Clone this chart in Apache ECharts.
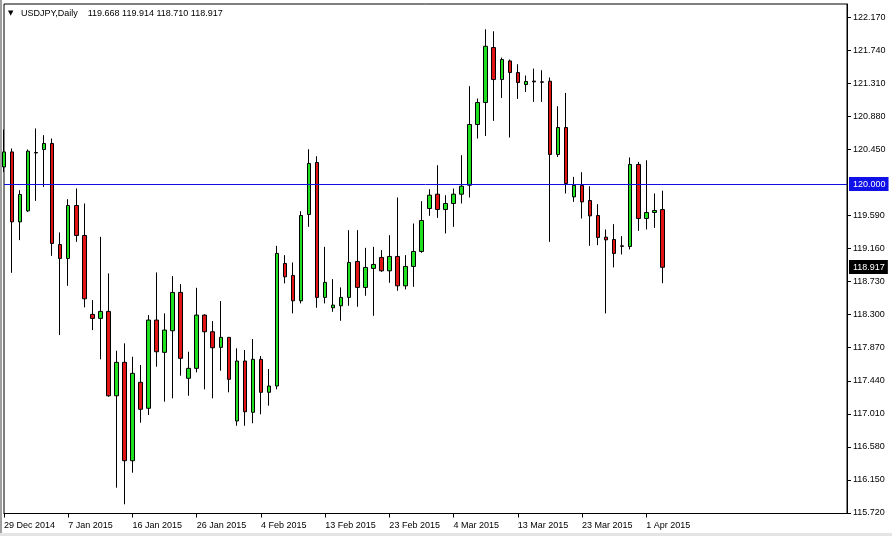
<!DOCTYPE html>
<html><head><meta charset="utf-8">
<script src="https://cdn.jsdelivr.net/npm/echarts@6/dist/echarts.min.js"></script>
<style>html,body{margin:0;padding:0;background:#fff;overflow:hidden}#c{width:892px;height:536px}</style>
</head><body><div id="c"></div>
<script>
const symbolName = 'USDJPY,Daily';
const dates = ['29 Dec 2014','30 Dec 2014','31 Dec 2014','1 Jan 2015','2 Jan 2015','4 Jan 2015','5 Jan 2015','6 Jan 2015',
'7 Jan 2015','8 Jan 2015','9 Jan 2015','11 Jan 2015','12 Jan 2015','13 Jan 2015','14 Jan 2015','15 Jan 2015',
'16 Jan 2015','18 Jan 2015','19 Jan 2015','20 Jan 2015','21 Jan 2015','22 Jan 2015','23 Jan 2015','25 Jan 2015',
'26 Jan 2015','27 Jan 2015','28 Jan 2015','29 Jan 2015','30 Jan 2015','1 Feb 2015','2 Feb 2015','3 Feb 2015',
'4 Feb 2015','5 Feb 2015','6 Feb 2015','8 Feb 2015','9 Feb 2015','10 Feb 2015','11 Feb 2015','12 Feb 2015',
'13 Feb 2015','15 Feb 2015','16 Feb 2015','17 Feb 2015','18 Feb 2015','19 Feb 2015','20 Feb 2015','22 Feb 2015',
'23 Feb 2015','24 Feb 2015','25 Feb 2015','26 Feb 2015','27 Feb 2015','1 Mar 2015','2 Mar 2015','3 Mar 2015',
'4 Mar 2015','5 Mar 2015','6 Mar 2015','8 Mar 2015','9 Mar 2015','10 Mar 2015','11 Mar 2015','12 Mar 2015',
'13 Mar 2015','15 Mar 2015','16 Mar 2015','17 Mar 2015','18 Mar 2015','19 Mar 2015','20 Mar 2015','22 Mar 2015',
'23 Mar 2015','24 Mar 2015','25 Mar 2015','26 Mar 2015','27 Mar 2015','29 Mar 2015','30 Mar 2015','31 Mar 2015',
'1 Apr 2015','2 Apr 2015','3 Apr 2015'];
const opens = [120.223,120.418,119.508,119.651,120.410,120.450,120.528,119.214,119.032,119.721,119.331,118.304,118.252,118.343,117.245,117.680,
116.400,117.420,117.082,118.230,117.810,118.091,118.590,117.472,117.602,118.295,118.078,117.875,118.005,116.917,117.697,117.030,
117.719,117.290,117.372,118.967,118.811,118.481,119.604,120.281,118.525,118.390,118.416,118.525,118.993,118.655,118.902,119.045,
118.871,119.058,118.676,118.928,119.123,119.682,119.868,119.669,119.747,119.868,119.985,120.775,121.061,121.776,121.360,121.602,
121.451,121.295,121.340,121.330,121.338,120.385,120.736,119.833,119.982,119.786,119.591,119.309,119.279,119.196,119.188,120.255,
119.552,119.630,119.668];
const highs = [120.710,120.463,119.920,120.450,120.723,120.636,120.593,119.370,119.803,119.943,119.747,118.490,119.313,118.837,117.831,117.927,
117.753,117.645,118.295,118.850,118.317,118.802,118.698,117.818,118.650,118.304,118.217,118.477,118.010,117.862,117.840,117.983,
117.762,117.593,119.196,119.075,118.980,119.647,120.453,120.362,119.183,118.763,118.655,119.400,119.400,119.170,119.183,119.140,
119.335,119.825,119.075,119.487,119.777,119.933,120.245,119.855,119.942,120.376,121.273,121.113,122.014,121.988,121.646,121.620,
121.559,121.412,121.503,121.481,121.386,121.013,121.186,120.093,120.154,119.972,119.738,119.409,119.478,119.322,120.346,120.288,
120.310,119.877,119.914];
const lows = [120.158,118.845,119.270,119.638,119.781,119.963,119.066,118.035,118.676,119.248,118.395,118.100,117.719,117.232,116.049,115.833,
116.244,116.894,116.995,117.623,117.168,117.212,117.506,117.245,117.550,117.329,117.212,117.571,117.290,116.855,116.855,116.887,
117.004,117.116,117.329,118.707,118.317,118.447,119.443,118.390,118.447,118.338,118.221,118.416,118.403,118.546,118.286,118.858,
118.715,118.611,118.629,118.663,119.105,119.586,119.560,119.357,119.443,119.747,119.825,120.593,120.626,120.822,121.121,120.606,
121.108,121.199,121.069,121.069,119.248,120.353,119.877,119.768,119.552,119.196,119.205,118.317,118.915,119.084,119.149,119.391,
119.409,119.430,118.710];
const closes = [120.418,119.508,119.864,120.428,120.405,120.528,119.227,119.032,119.721,119.331,118.507,118.252,118.343,117.245,117.680,116.400,
117.537,117.069,118.230,117.818,118.100,118.590,117.732,117.602,118.295,118.078,117.870,118.005,117.459,117.697,117.037,117.719,
117.290,117.372,119.097,118.793,118.481,119.591,120.268,118.525,118.720,118.425,118.525,118.980,118.655,118.915,118.954,118.871,
119.058,118.676,118.928,119.123,119.526,119.855,119.669,119.747,119.868,119.972,120.775,121.061,121.793,121.360,121.620,121.451,
121.321,121.334,121.330,121.325,120.385,120.736,120.007,119.982,119.768,119.586,119.305,119.274,119.097,119.190,120.255,119.552,
119.630,119.656,118.917];
const priceTicks = [115.720,116.150,116.580,117.010,117.440,117.870,118.300,118.730,119.160,119.590,120.450,120.880,121.310,121.740,122.170];
const levelLine = 120.000;

const FONT = "'Liberation Sans', Arial, sans-serif";
const FS = 9;
const emptySlots = 23;
const axisCats = dates.concat(new Array(emptySlots).fill(''));
const last = dates.length - 1;
const candleData = opens.map((o, i) => [o, closes[i], lows[i], highs[i]]);
const headerValues = [opens[last], highs[last], lows[last], closes[last]].map(v => v.toFixed(3)).join(' ');
const isLabelIdx = (idx) => idx % 8 === 0 && idx < dates.length;

const chart = echarts.init(document.getElementById('c'), null, {renderer: 'canvas'});
chart.setOption({
  animation: false,
  backgroundColor: '#ffffff',
  title: {
    left: 8, top: 9, padding: 0,
    text: '{t|▼}{n|   ' + symbolName + '    ' + headerValues + '}',
    textStyle: {
      fontWeight: 'normal', fontSize: FS, fontFamily: FONT,
      rich: {
        t: {fontSize: 7, color: '#000', fontFamily: 'DejaVu Sans', fontWeight: 'normal'},
        n: {fontSize: FS, color: '#000', fontFamily: FONT, fontWeight: 'normal'}
      }
    }
  },
  grid: {left: 4, top: 4, width: 843, height: 509.5, show: true, borderColor: '#000', borderWidth: 1, backgroundColor: 'transparent'},
  xAxis: {
    type: 'category',
    data: axisCats,
    boundaryGap: false,
    axisLine: {show: true, lineStyle: {color: '#000', width: 1}},
    axisTick: {show: true, interval: isLabelIdx, length: 4, lineStyle: {color: '#000'}},
    axisLabel: {interval: isLabelIdx, align: 'left', margin: 8, color: '#000', fontFamily: FONT, fontSize: FS, hideOverlap: false},
    splitLine: {show: false}
  },
  yAxis: {
    type: 'value',
    position: 'right',
    min: 115.713, max: 122.343,
    scale: true,
    axisLine: {show: true, lineStyle: {color: '#000', width: 1}},
    axisTick: {show: true, length: 4, customValues: priceTicks, lineStyle: {color: '#000'}},
    axisLabel: {customValues: priceTicks, margin: 6, color: '#000', fontFamily: FONT, fontSize: FS, formatter: v => v.toFixed(3)},
    splitLine: {show: false}
  },
  series: [{
    type: 'candlestick',
    data: candleData,
    barWidth: 4,
    clip: true,
    itemStyle: {
      color: '#1fe01f', color0: '#e01414',
      borderColor: '#000', borderColor0: '#000', borderColorDoji: '#000', borderWidth: 1
    },
    markLine: {
      symbol: 'none', silent: true, animation: false,
      data: [
        {yAxis: levelLine, lineStyle: {color: '#1010e0', width: 1, type: 'solid'},
         label: {show: true, position: 'end', distance: 2, formatter: levelLine.toFixed(3), color: '#fff', backgroundColor: '#1010e8', padding: [3, 3, 2, 4], fontFamily: FONT, fontSize: FS}},
        {yAxis: closes[last], lineStyle: {color: 'rgba(0,0,0,0)', width: 0},
         label: {show: true, position: 'end', distance: 2, formatter: closes[last].toFixed(3), color: '#fff', backgroundColor: '#000', padding: [3, 3, 2, 4], fontFamily: FONT, fontSize: FS}}
      ]
    }
  }],
  graphic: [
    {type: 'rect', left: 0, top: 0, shape: {width: 2, height: 536}, style: {fill: '#a0a0a0'}, silent: true},
    {type: 'rect', left: 0, top: 533, shape: {width: 892, height: 3}, style: {fill: '#e4e4e4'}, silent: true}
  ]
});
</script></body></html>
